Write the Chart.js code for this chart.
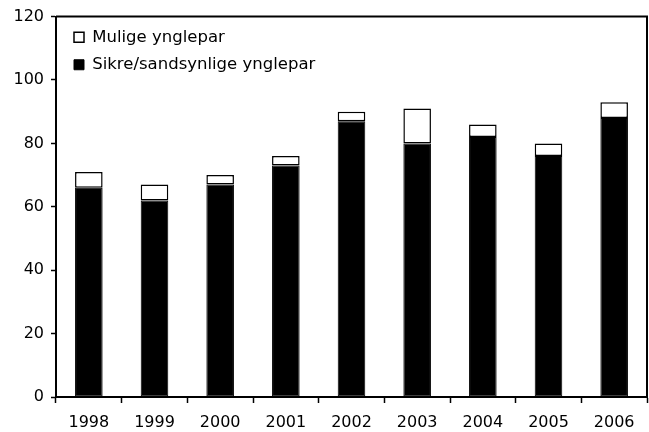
<!DOCTYPE html>
<html>
<head>
<meta charset="utf-8">
<script src="https://cdn.jsdelivr.net/npm/chart.js@4/dist/chart.umd.min.js"></script>
<style>
  html, body { margin: 0; padding: 0; background: #fff; }
  #wrap { width: 649px; height: 432px; }
</style>
</head>
<body>
<div id="wrap"><canvas id="chart"></canvas></div>
<script>
// Data
const years = ['1998', '1999', '2000', '2001', '2002', '2003', '2004', '2005', '2006'];
const sikre = [66, 62, 67, 73, 87, 80, 82, 76, 88];   // Sikre/sandsynlige ynglepar
const mulige = [5, 5, 3, 3, 3, 11, 4, 4, 5];          // Mulige ynglepar (on top)
const yTicks = [0, 20, 40, 60, 80, 100, 120];

const FONT = 'DejaVu Sans, Verdana, sans-serif';

// frame round the plot area (top and right side)
const frame = {
    id: 'frame',
    afterDatasetsDraw(chart) {
        const a = chart.chartArea;
        const c = chart.ctx;
        c.save();
        c.strokeStyle = '#000';
        c.lineWidth = 2;
        c.beginPath();
        c.moveTo(a.left, a.top);
        c.lineTo(a.right, a.top);
        c.lineTo(a.right, a.bottom);
        c.stroke();
        c.restore();
    }
};

// move the legend box a bit into the plot area
const legendNudge = {
    id: 'legendNudge',
    afterLayout(chart) {
        if (!chart.legend) return;
        chart.legend.top = 18;
        chart.legend.left = 63;
    }
};

const ctx = document.getElementById('chart').getContext('2d');

new Chart(ctx, {
    type: 'bar',
    data: {
        labels: years,
        datasets: [
            {
                label: 'Sikre/sandsynlige ynglepar',
                data: sikre,
                backgroundColor: '#000',
                borderColor: '#000',
                borderWidth: 1,
                borderSkipped: false
            },
            {
                label: 'Mulige ynglepar',
                data: mulige,
                backgroundColor: '#fff',
                borderColor: '#000',
                borderWidth: 1.5,
                borderSkipped: false
            }
        ]
    },
    options: {
        responsive: true,
        maintainAspectRatio: false,
        animation: false,
        layout: { padding: { top: 14, right: 2, left: 0, bottom: 0 } },
        datasets: {
            bar: { categoryPercentage: 1, barPercentage: 0.42 }
        },
        plugins: {
            tooltip: { enabled: false },
            legend: {
                position: 'chartArea',
                align: 'start',
                reverse: true,
                labels: {
                    color: '#000',
                    font: { family: FONT, size: 16.5 },
                    boxWidth: 10,
                    boxHeight: 10,
                    padding: 11
                }
            }
        },
        scales: {
            x: {
                stacked: true,
                afterFit(scale) { scale.height = 35; },
                grid: {
                    drawOnChartArea: false,
                    drawTicks: true,
                    tickLength: 6,
                    tickColor: '#000',
                    tickWidth: 1.5
                },
                border: { color: '#000', width: 2 },
                ticks: {
                    color: '#000',
                    padding: 10,
                    maxRotation: 0,
                    font: { family: FONT, size: 16 }
                }
            },
            y: {
                stacked: true,
                min: 0,
                max: 120,
                afterFit(scale) { scale.width = 56; },
                afterBuildTicks(scale) {
                    scale.ticks = yTicks.map(v => ({ value: v }));
                },
                grid: {
                    drawOnChartArea: false,
                    drawTicks: true,
                    tickLength: 5,
                    tickColor: '#000',
                    tickWidth: 1.5
                },
                border: { color: '#000', width: 2 },
                ticks: {
                    color: '#000',
                    padding: 7,
                    font: { family: FONT, size: 16 }
                }
            }
        }
    },
    plugins: [frame, legendNudge]
});
</script>
</body>
</html>
